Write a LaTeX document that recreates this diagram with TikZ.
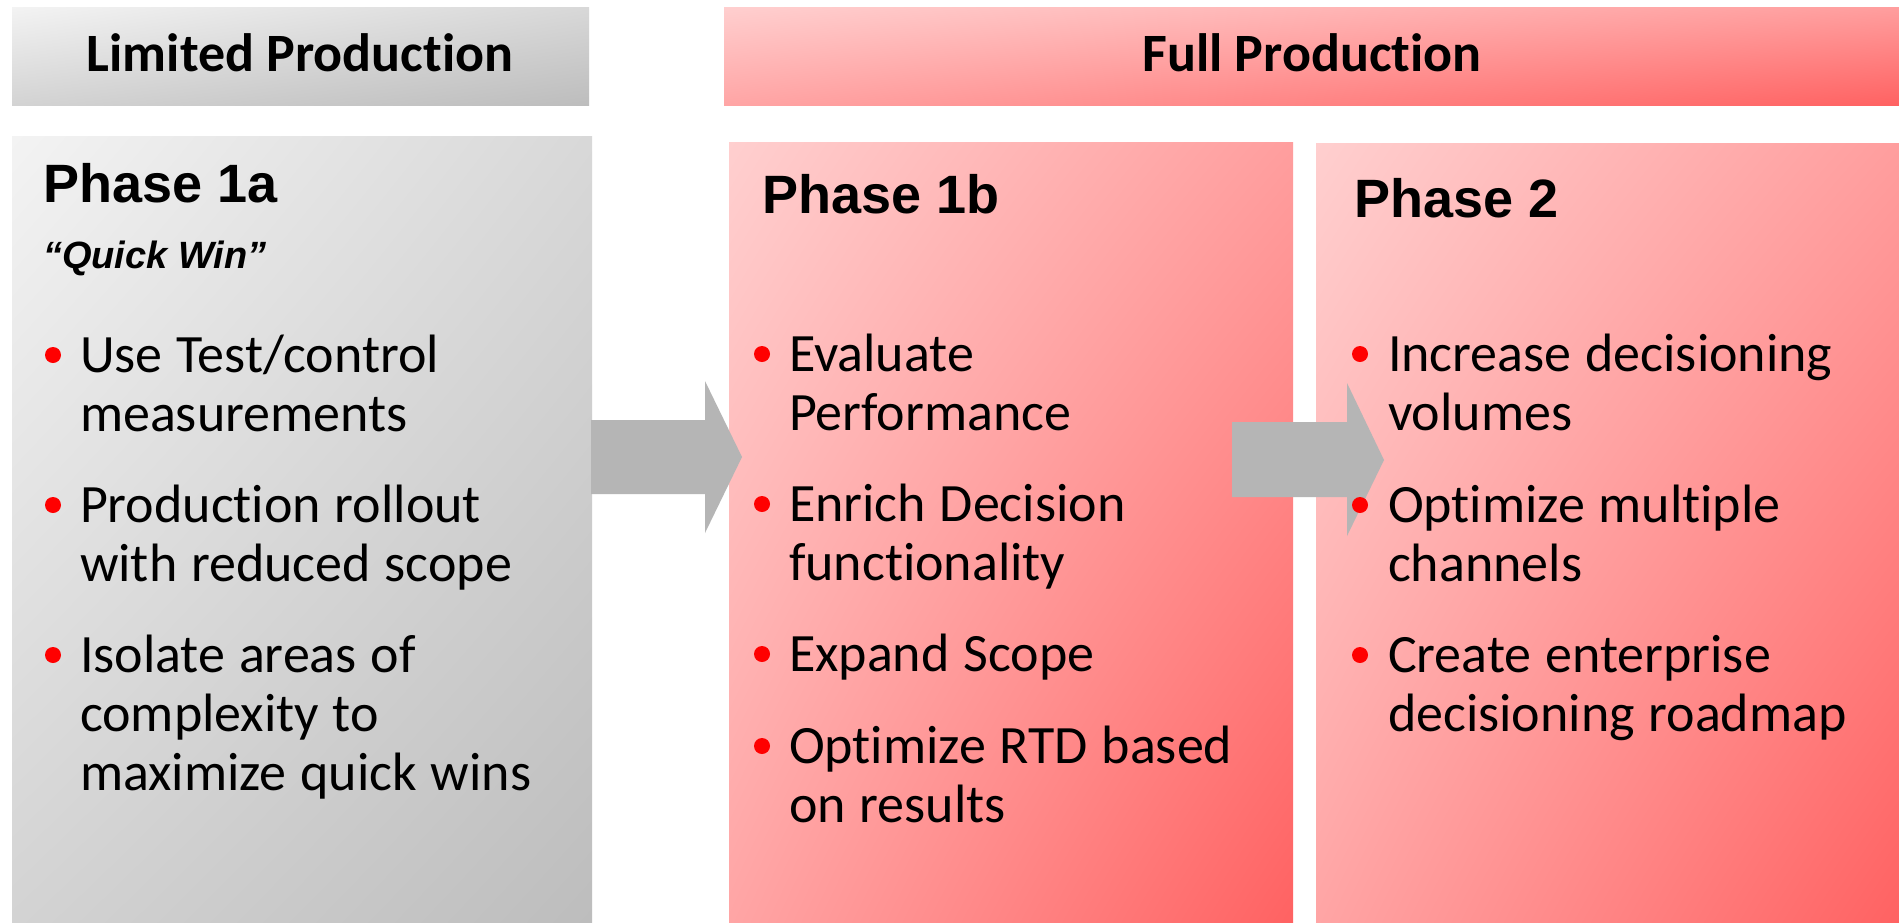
\documentclass[tikz,border=0pt]{standalone}
\usepackage{fontspec}
\usetikzlibrary{shadings}
\setmainfont{Carlito}[Ligatures={NoCommon}]
\newfontfamily\titlefont{Liberation Sans}

\definecolor{greyUL}{HTML}{F3F3F3}
\definecolor{greyUR}{HTML}{D8D8D8}
\definecolor{greyLL}{HTML}{D3D3D3}
\definecolor{greyLR}{HTML}{BDBDBD}
\definecolor{redUL}{HTML}{FFCFCF}
\definecolor{redUR}{HTML}{FF9E9E}
\definecolor{redLL}{HTML}{FFA5A5}
\definecolor{redLR}{HTML}{FF6262}
\definecolor{arrowgrey}{HTML}{B5B5B5}
\definecolor{bulletred}{HTML}{FF0000}

\newcommand\tightwords{\spaceskip=0.255em\relax}

\tikzset{
  every node/.style={inner sep=0pt, outer sep=0pt},
  greypanel/.style={rectangle, anchor=north west,
    upper left=greyUL, upper right=greyUR, lower left=greyLL, lower right=greyLR},
  redpanel/.style={rectangle, anchor=north west,
    upper left=redUL, upper right=redUR, lower left=redLL, lower right=redLR},
  headtext/.style={anchor=base, font=\bfseries\fontsize{27pt}{30pt}\selectfont},
  phasetitle/.style={anchor=base west, font=\titlefont\bfseries\fontsize{27pt}{30pt}\selectfont},
  tagline/.style={anchor=base west, font=\titlefont\bfseries\itshape\fontsize{19pt}{22pt}\selectfont},
  % explicit line breaks only; fixed word spacing
  itemtext/.style={anchor=base west, text width=255pt,
    font=\fontsize{27pt}{29.5pt}\selectfont,
    execute at begin node=\tightwords},
  dot/.style={circle, fill=bulletred, minimum size=8pt},
  blockarrow/.style={fill=arrowgrey},
}

\begin{document}
\begin{tikzpicture}[x=0.5pt, y=-0.5pt]
  \useasboundingbox (0,0) rectangle (1899,922);
  \fill[white] (0,0) rectangle (1899,922);

  % stage headers
  \node[greypanel, minimum width=288.5pt, minimum height=49pt] (lphead) at (12,7) {};
  \node[redpanel, minimum width=587.5pt, minimum height=49pt] (fphead) at (724,7) {};
  \node[headtext] (lplabel) at (300,71) {Limited Production};
  \node[headtext] (fplabel) at (1312,71) {Full Production};

  % phase panels
  \node[greypanel, minimum width=290pt, minimum height=393pt] (p1a) at (12,136) {};
  \node[redpanel, minimum width=282pt, minimum height=390pt] (p1b) at (729,142) {};
  \node[redpanel, minimum width=291.5pt, minimum height=389.5pt] (p2) at (1316,143) {};

  % block arrows between phases
  \fill[blockarrow] (591,420) -- (705,420) -- (705,381) -- (742,457)
    -- (705,533) -- (705,494) -- (591,494) -- cycle;
  \fill[blockarrow] (1232,422) -- (1347,422) -- (1347,383) -- (1384,460)
    -- (1347,536) -- (1347,497) -- (1232,497) -- cycle;

  % Phase 1a
  \node[phasetitle] (t1a) at (43,202) {Phase 1a};
  \node[tagline] (q1a) at (43,268) {“Quick Win”};
  \node[dot] (b1a1) at (53,355) {};
  \node[itemtext] (i1a1) at (80,372) {Use Test/control\\measurements};
  \node[dot] (b1a2) at (53,505) {};
  \node[itemtext] (i1a2) at (80,522) {Production rollout\\with reduced scope};
  \node[dot] (b1a3) at (53,655) {};
  \node[itemtext] (i1a3) at (80,672) {Isolate areas of\\complexity to\\maximize quick wins};

  % Phase 1b
  \node[phasetitle] (t1b) at (762,213) {Phase 1b};
  \node[dot] (b1b1) at (762,354) {};
  \node[itemtext] (i1b1) at (789,371) {Evaluate\\Performance};
  \node[dot] (b1b2) at (762,504) {};
  \node[itemtext] (i1b2) at (789,521) {Enrich Decision\\functionality};
  \node[dot] (b1b3) at (762,654) {};
  \node[itemtext] (i1b3) at (789,671) {Expand Scope};
  \node[dot] (b1b4) at (762,746) {};
  \node[itemtext] (i1b4) at (789,763) {Optimize RTD based\\on results};

  % Phase 2
  \node[phasetitle] (t2) at (1354,217) {Phase 2};
  \node[dot] (b21) at (1360,354) {};
  \node[itemtext] (i21) at (1388,371) {Increase decisioning\\volumes};
  \node[dot] (b22) at (1360,505) {};
  \node[itemtext] (i22) at (1388,522) {Optimize multiple\\channels};
  \node[dot] (b23) at (1360,655) {};
  \node[itemtext] (i23) at (1388,672) {Create enterprise\\decisioning roadmap};
\end{tikzpicture}
\end{document}
